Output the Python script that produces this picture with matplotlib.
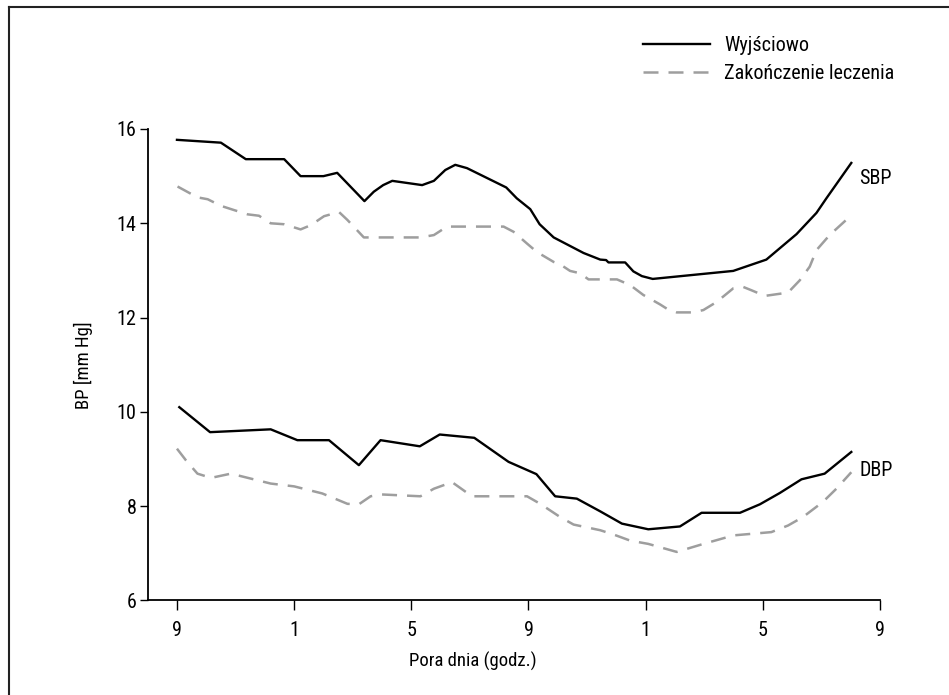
import matplotlib
matplotlib.use("Agg")
import matplotlib.pyplot as plt
from matplotlib.lines import Line2D

plt.rcParams['font.family'] = ['Liberation Sans Narrow', 'Roboto Condensed', 'Roboto', 'DejaVu Sans']

# godziny od 9:00
sbp_base_h = [0, 1.5, 2.35, 3.66, 4.22, 5.0, 5.47, 6.4, 6.72, 7.04, 7.35, 8.37, 8.77, 9.16,
              9.5, 9.9, 11.24, 11.6, 12.06, 12.38, 12.86, 13.88, 14.45, 14.65, 14.73, 15.3,
              15.58, 15.87, 16.24, 18.99, 20.12, 21.15, 21.83, 22.17, 23.02]
sbp_base = [15.77, 15.71, 15.36, 15.36, 15.0, 15.0, 15.07, 14.47, 14.67, 14.81, 14.9, 14.81,
            14.9, 15.13, 15.24, 15.17, 14.76, 14.53, 14.3, 13.98, 13.7, 13.37, 13.23, 13.22,
            13.17, 13.17, 12.98, 12.88, 12.82, 12.99, 13.23, 13.77, 14.22, 14.53, 15.28]

sbp_end_h = [0.02, 0.7, 1.05, 1.5, 1.95, 2.41, 2.8, 3.2, 3.66, 4.22, 4.57, 5.02, 5.53, 5.82,
             6.38, 8.31, 8.77, 9.22, 11.15, 11.49, 11.95, 12.29, 12.86, 13.08, 13.42, 13.76,
             14.05, 15.02, 15.47, 15.92, 16.49, 16.72, 17.06, 17.63, 17.97, 18.42, 18.99,
             19.33, 19.61, 20.07, 20.86, 21.26, 21.6, 21.83, 22.28, 23.02]
sbp_end = [14.78, 14.55, 14.51, 14.37, 14.28, 14.19, 14.16, 14.0, 13.98, 13.87, 13.96, 14.15,
           14.24, 14.07, 13.7, 13.7, 13.75, 13.93, 13.93, 13.82, 13.57, 13.39, 13.18, 13.13,
           12.99, 12.94, 12.81, 12.81, 12.69, 12.48, 12.28, 12.19, 12.11, 12.11, 12.16, 12.33,
           12.62, 12.65, 12.58, 12.46, 12.53, 12.79, 13.08, 13.43, 13.75, 14.17]

dbp_base_h = [0.08, 1.13, 3.2, 4.11, 5.19, 6.21, 6.95, 8.29, 8.97, 10.15, 11.32, 12.27, 12.91,
              13.65, 14.45, 15.19, 16.09, 17.17, 17.91, 19.22, 19.9, 20.58, 21.32, 22.11, 23.02]
dbp_base = [10.1, 9.57, 9.63, 9.4, 9.4, 8.87, 9.4, 9.27, 9.52, 9.45, 8.94, 8.68, 8.21, 8.16,
            7.89, 7.63, 7.51, 7.57, 7.86, 7.86, 8.04, 8.28, 8.57, 8.69, 9.15]

dbp_end_h = [0, 0.31, 0.7, 1.16, 1.84, 3.2, 4.0, 4.96, 5.82, 6.21, 6.61, 6.95, 8.31, 8.77,
             9.39, 10.07, 11.95, 12.4, 13.08, 13.54, 14.45, 14.9, 15.47, 16.09, 17.06, 17.97,
             18.71, 18.99, 20.29, 20.86, 21.37, 22.05, 22.51, 23.02]
dbp_end = [9.22, 8.97, 8.69, 8.6, 8.69, 8.48, 8.42, 8.27, 8.05, 8.04, 8.21, 8.25, 8.21, 8.37,
           8.51, 8.21, 8.21, 8.05, 7.77, 7.61, 7.49, 7.4, 7.27, 7.2, 7.03, 7.2, 7.33, 7.38,
           7.45, 7.59, 7.77, 8.09, 8.37, 8.72]

xticks = [0, 4, 8, 12, 16, 20, 24]
xtick_labels = ['9', '1', '5', '9', '1', '5', '9']
yticks = [6, 8, 10, 12, 14, 16]

solid_kw = dict(color='black', lw=1.7)
dash_kw = dict(color='#9e9e9e', lw=1.8, dashes=(6, 4))

fig = plt.figure(figsize=(9.49, 6.95), dpi=100)
ax = fig.add_axes([0.1556, 0.136, 0.7717, 0.6784])

ax.plot(sbp_base_h, sbp_base, **solid_kw)
ax.plot(sbp_end_h, sbp_end, **dash_kw)
ax.plot(dbp_base_h, dbp_base, **solid_kw)
ax.plot(dbp_end_h, dbp_end, **dash_kw)

ax.text(23.3, 14.96, 'SBP', fontsize=14.5, va='center', ha='left')
ax.text(23.3, 8.76, 'DBP', fontsize=14.5, va='center', ha='left')

ax.set_xlim(-1, 24)
ax.set_ylim(6, 16)
ax.set_xticks(xticks)
ax.set_xticklabels(xtick_labels)
ax.set_yticks(yticks)
ax.tick_params(axis='both', direction='out', labelsize=14.5, width=1, colors='black')
ax.tick_params(axis='x', length=7, pad=8)
ax.tick_params(axis='y', length=6, pad=2)
for s in ['top', 'right']:
    ax.spines[s].set_visible(False)
for s in ['left', 'bottom']:
    ax.spines[s].set_linewidth(1.3)

ax.set_xlabel('Pora dnia (godz.)', fontsize=13.5, labelpad=8, x=0.444)
ax.set_ylabel('BP [mm Hg]', fontsize=13.5, labelpad=17)

handles = [Line2D([], [], **solid_kw), Line2D([], [], **dash_kw)]
ax.legend(handles, ['Wyjściowo', 'Zakończenie leczenia'], loc='upper left',
          bbox_to_anchor=(0.652, 1.235), frameon=False, fontsize=14.5,
          handlelength=3.3, handletextpad=0.7, labelspacing=0.45)

# ramka wokół rysunku (tylko lewa i górna krawędź)
fig.add_artist(Line2D([0.0095, 0.0095], [0, 0.99], transform=fig.transFigure, color='#222222', lw=1.5))
fig.add_artist(Line2D([0.0095, 1.0], [0.99, 0.99], transform=fig.transFigure, color='#222222', lw=1.5))

plt.savefig('out.png', dpi=100)
